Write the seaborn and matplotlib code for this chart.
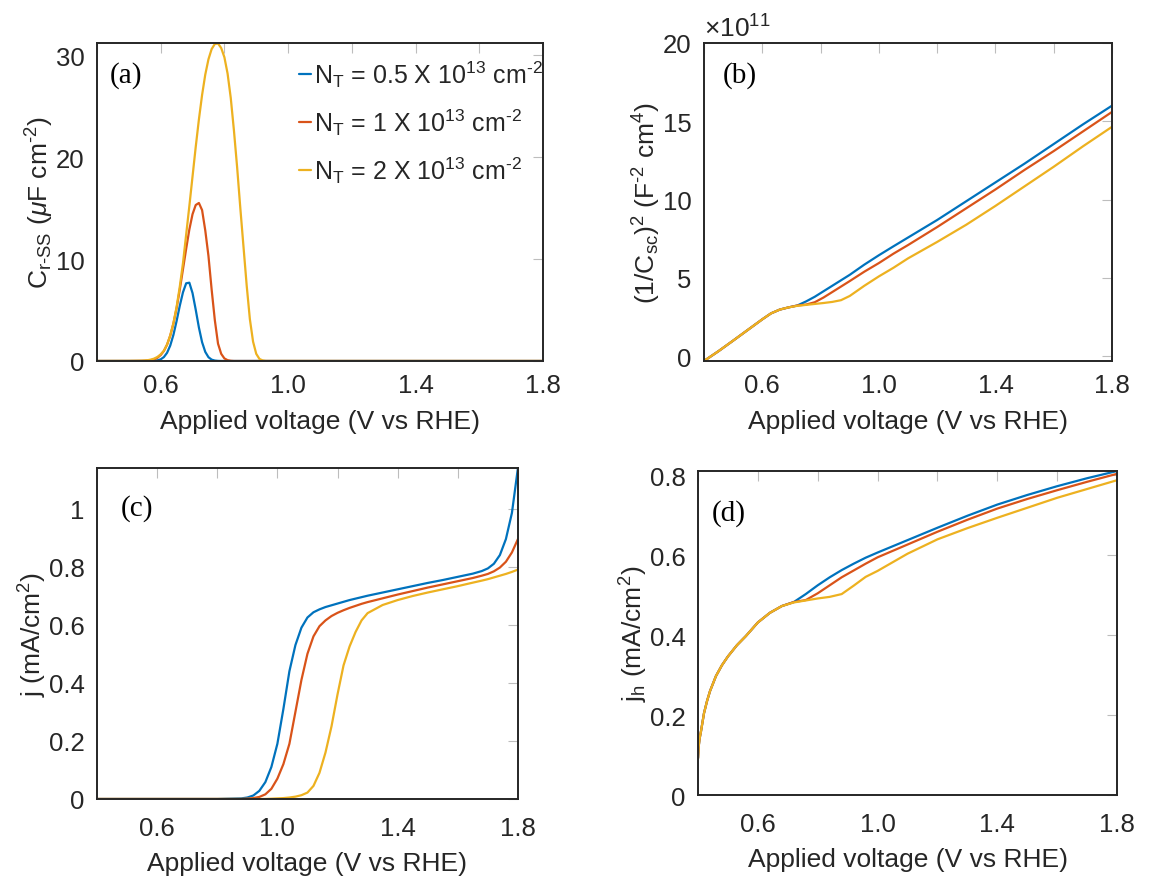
#!/usr/bin/env python3
#===============================================================================
# plot trap-state capacitance, Mott-Schottky and current curves (a)-(d)
#===============================================================================

# Imports ======================================================================

import matplotlib
matplotlib.use('Agg')
import matplotlib.pyplot as plt
import numpy as np
import pandas as pd
import seaborn as sns


# Data =========================================================================

trap_labels = [
    r'N$_\mathregular{T}$ = 0.5 X 10$^\mathregular{13}$ cm$^{\text{-2}}$',
    r'N$_\mathregular{T}$ = 1 X 10$^\mathregular{13}$ cm$^{\text{-2}}$',
    r'N$_\mathregular{T}$ = 2 X 10$^\mathregular{13}$ cm$^{\text{-2}}$',
]
colors = ['#0072BD', '#D95319', '#EDB120']

# (a) surface-state capacitance, uF cm^-2
volt_a = [0.40, 0.50, 0.54, 0.55, 0.56, 0.57, 0.58, 0.59, 0.60, 0.61, 0.62,
          0.63, 0.64, 0.65, 0.66, 0.67, 0.68, 0.69, 0.70, 0.71, 0.72, 0.73,
          0.74, 0.75, 0.76, 0.77, 0.78, 0.79, 0.80, 0.81, 0.82, 0.83, 0.84,
          0.85, 0.86, 0.87, 0.88, 0.89, 0.90, 0.91, 0.92, 0.93, 1.00, 1.80]
crss_05 = [0, 0, 0, 0, 0, 0.01, 0.02, 0.06, 0.16, 0.38, 0.80,
           1.51, 2.56, 3.92, 5.42, 6.74, 7.62, 7.68, 6.66, 5.03, 3.28, 1.84,
           0.89, 0.37, 0.13, 0.04, 0.01, 0, 0, 0, 0, 0, 0,
           0, 0, 0, 0, 0, 0, 0, 0, 0, 0, 0]
crss_1 = [0, 0, 0.01, 0.02, 0.04, 0.09, 0.17, 0.32, 0.58, 0.98, 1.60,
          2.48, 3.68, 5.19, 7.0, 9.0, 11.0, 12.9, 14.4, 15.3, 15.5, 14.8,
          12.8, 10.3, 7.0, 4.0, 1.7, 0.7, 0.25, 0.08, 0.02, 0, 0,
          0, 0, 0, 0, 0, 0, 0, 0, 0, 0, 0]
crss_2 = [0, 0.01, 0.03, 0.05, 0.08, 0.14, 0.24, 0.40, 0.65, 1.0, 1.6,
          2.5, 3.7, 5.3, 7.3, 9.6, 12.4, 15.2, 18.1, 21.0, 23.7, 26.1,
          28.1, 29.6, 30.6, 31.1, 31.15, 30.7, 29.8, 28.2, 25.8, 22.6, 19.0,
          15.0, 11.2, 7.4, 4.1, 1.9, 0.7, 0.2, 0.05, 0, 0, 0]

# (b) Mott-Schottky, in units of 1e11 F^-2 cm^4
volt_b = [0.40, 0.45, 0.50, 0.55, 0.60, 0.63, 0.66, 0.69, 0.72, 0.75, 0.78,
          0.81, 0.84, 0.87, 0.90, 0.95, 1.00, 1.05, 1.10, 1.20, 1.30, 1.40,
          1.50, 1.60, 1.70, 1.80]
ms_05 = [-0.30, 0.33, 1.00, 1.68, 2.36, 2.74, 2.98, 3.12, 3.24, 3.50, 3.80,
         4.15, 4.50, 4.85, 5.20, 5.85, 6.45, 7.02, 7.58, 8.70, 9.90, 11.10,
         12.30, 13.55, 14.80, 16.00]
ms_1 = [-0.30, 0.33, 1.00, 1.68, 2.36, 2.74, 2.98, 3.12, 3.24, 3.30, 3.45,
        3.75, 4.10, 4.45, 4.80, 5.40, 5.95, 6.55, 7.10, 8.25, 9.45, 10.65,
        11.90, 13.10, 14.35, 15.60]
ms_2 = [-0.30, 0.33, 1.00, 1.68, 2.36, 2.74, 2.98, 3.12, 3.22, 3.28, 3.34,
        3.40, 3.47, 3.58, 3.85, 4.50, 5.10, 5.65, 6.25, 7.30, 8.40, 9.60,
        10.85, 12.10, 13.40, 14.65]

# (c) total current density, mA/cm^2
volt_c = [0.40, 0.60, 0.80, 0.88, 0.90, 0.92, 0.94, 0.96, 0.98, 1.00, 1.02,
          1.04, 1.06, 1.08, 1.10, 1.12, 1.14, 1.16, 1.18, 1.20, 1.22, 1.24,
          1.26, 1.28, 1.30, 1.35, 1.40, 1.45, 1.50, 1.55, 1.60, 1.65, 1.68,
          1.70, 1.72, 1.74, 1.76, 1.78, 1.80]
j_05 = [0, 0, 0, 0.002, 0.005, 0.012, 0.028, 0.058, 0.11, 0.19, 0.31,
        0.44, 0.53, 0.59, 0.625, 0.643, 0.653, 0.661, 0.667, 0.673, 0.679, 0.685,
        0.690, 0.695, 0.700, 0.711, 0.722, 0.733, 0.744, 0.754, 0.765, 0.776, 0.785,
        0.794, 0.810, 0.840, 0.895, 0.985, 1.140]
j_1 = [0, 0, 0, 0, 0.001, 0.003, 0.007, 0.016, 0.035, 0.07, 0.12,
       0.19, 0.30, 0.41, 0.50, 0.56, 0.595, 0.615, 0.630, 0.641, 0.650, 0.658,
       0.665, 0.672, 0.678, 0.691, 0.704, 0.716, 0.728, 0.739, 0.750, 0.761, 0.769,
       0.775, 0.784, 0.797, 0.817, 0.849, 0.895]
j_2 = [0, 0, 0, 0, 0, 0, 0, 0, 0.001, 0.002, 0.003,
       0.005, 0.008, 0.013, 0.022, 0.045, 0.09, 0.16, 0.25, 0.36, 0.46, 0.525,
       0.575, 0.615, 0.640, 0.668, 0.685, 0.699, 0.711, 0.722, 0.733, 0.745, 0.752,
       0.757, 0.763, 0.769, 0.775, 0.782, 0.790]

# (d) hole current density, mA/cm^2
volt_d = [0.400, 0.402, 0.405, 0.41, 0.42, 0.43, 0.44, 0.46, 0.48, 0.50, 0.53,
          0.56, 0.60, 0.64, 0.68, 0.72, 0.76, 0.80, 0.84, 0.88, 0.92, 0.96,
          1.00, 1.10, 1.20, 1.30, 1.40, 1.50, 1.60, 1.70, 1.80]
jh_05 = [0.092, 0.12, 0.14, 0.16, 0.205, 0.235, 0.26, 0.298, 0.325, 0.347, 0.375,
         0.398, 0.432, 0.456, 0.473, 0.483, 0.503, 0.525, 0.545, 0.563, 0.579, 0.594,
         0.607, 0.638, 0.669, 0.699, 0.727, 0.751, 0.773, 0.793, 0.811]
jh_1 = [0.092, 0.12, 0.14, 0.16, 0.205, 0.235, 0.26, 0.298, 0.325, 0.347, 0.375,
        0.398, 0.432, 0.456, 0.473, 0.483, 0.488, 0.505, 0.525, 0.545, 0.562, 0.579,
        0.595, 0.627, 0.659, 0.689, 0.717, 0.741, 0.763, 0.784, 0.804]
jh_2 = [0.092, 0.12, 0.14, 0.16, 0.205, 0.235, 0.26, 0.298, 0.325, 0.347, 0.375,
        0.398, 0.432, 0.456, 0.473, 0.482, 0.487, 0.492, 0.496, 0.503, 0.524, 0.546,
        0.561, 0.604, 0.640, 0.668, 0.694, 0.719, 0.744, 0.766, 0.788]

x_ticks = [0.4, 0.6, 0.8, 1.0, 1.2, 1.4, 1.6, 1.8]
x_ticklabels = ['', '0.6', '', '1.0', '', '1.4', '', '1.8']


# Functions ====================================================================

def draw_panel(ax, volts, series, legend=False, tick_pad=9):
    df = pd.DataFrame({
        'V': np.tile(volts, len(series)),
        'val': np.concatenate([np.asarray(s, dtype=float) for s in series]),
        'trap': np.repeat(trap_labels, len(volts)),
    })
    sns.lineplot(data=df, x='V', y='val', hue='trap', hue_order=trap_labels,
                 palette=colors, linewidth=1.6, estimator=None, sort=False,
                 legend=legend, ax=ax)
    ax.set_xlim(0.4, 1.8)
    ax.set_xticks(x_ticks)
    ax.set_xticklabels(x_ticklabels)
    ax.set_xlabel('Applied voltage (V vs RHE)', fontsize=19, labelpad=8)
    ax.tick_params(direction='in', top=True, right=True, length=7, width=0.8,
                   color='#bdbdbd', labelcolor='#262626', labelsize=18.5, pad=9)
    ax.tick_params(axis='x', pad=tick_pad)
    for sp in ax.spines.values():
        sp.set_linewidth(1.4)
        sp.set_color('#262626')


def panel_tag(ax, tag, x, y):
    ax.text(x, y, tag, transform=ax.transAxes, family='Liberation Serif',
            fontsize=21, ha='left', va='center', color='black')


def main():
    sns.set_theme(style='white')
    plt.rcParams['font.family'] = ['Liberation Sans', 'DejaVu Sans']
    plt.rcParams['mathtext.fontset'] = 'custom'
    plt.rcParams['mathtext.rm'] = 'Liberation Sans'
    plt.rcParams['mathtext.it'] = 'Liberation Sans:italic'
    plt.rcParams['mathtext.default'] = 'regular'
    plt.rcParams['axes.labelcolor'] = '#262626'

    fig = plt.figure(figsize=(11.53, 8.79), dpi=100)
    ax_a = fig.add_axes([0.0841, 0.5882, 0.3868, 0.3618])
    ax_b = fig.add_axes([0.6106, 0.5882, 0.3539, 0.3618])
    ax_c = fig.add_axes([0.0841, 0.0899, 0.3651, 0.3766])
    ax_d = fig.add_axes([0.6054, 0.0944, 0.3634, 0.3686])

    # (a)
    draw_panel(ax_a, volt_a, [crss_05, crss_1, crss_2], legend=True)
    ax_a.set_ylim(0, 31.2)
    ax_a.set_yticks([0, 10, 20, 30])
    ax_a.set_ylabel(r'C$_{\text{r-SS}}$ ($\mathit{\mu}$F cm$^{\text{-2}}$)',
                    fontsize=19, labelpad=0)
    ax_a.legend(frameon=False, loc='upper right', bbox_to_anchor=(1.033, 1.0),
                fontsize=18, handlelength=0.5, handletextpad=0.1,
                labelspacing=0.7, borderaxespad=0.2)
    panel_tag(ax_a, '(a)', 0.028, 0.90)

    # (b)
    draw_panel(ax_b, volt_b, [ms_05, ms_1, ms_2])
    ax_b.set_ylim(-0.3, 20)
    ax_b.set_yticks([0, 5, 10, 15, 20])
    ax_b.text(0.0, 1.005, r'$\times$10$^\mathregular{11}$', transform=ax_b.transAxes,
              ha='left', va='bottom', fontsize=19, color='#262626')
    ax_b.set_ylabel(r'(1/C$_\mathregular{sc}$)$^\mathregular{2}$ (F$^{\text{-2}}$ cm$^\mathregular{4}$)',
                    fontsize=19, labelpad=0)
    panel_tag(ax_b, '(b)', 0.045, 0.90)

    # (c)
    draw_panel(ax_c, volt_c, [j_05, j_1, j_2], tick_pad=12)
    ax_c.set_ylim(0, 1.14)
    ax_c.set_yticks([0, 0.2, 0.4, 0.6, 0.8, 1.0])
    ax_c.set_yticklabels(['0', '0.2', '0.4', '0.6', '0.8', '1'])
    ax_c.set_ylabel(r'j (mA/cm$^\mathregular{2}$)', fontsize=19, labelpad=0)
    panel_tag(ax_c, '(c)', 0.057, 0.88)

    # (d)
    draw_panel(ax_d, volt_d, [jh_05, jh_1, jh_2], tick_pad=12)
    ax_d.set_ylim(0, 0.811)
    ax_d.set_yticks([0, 0.2, 0.4, 0.6, 0.8])
    ax_d.set_yticklabels(['0', '0.2', '0.4', '0.6', '0.8'])
    ax_d.set_ylabel(r'j$_\mathregular{h}$ (mA/cm$^\mathregular{2}$)', fontsize=19, labelpad=0)
    panel_tag(ax_d, '(d)', 0.033, 0.873)

    fig.savefig('out.png', dpi=100, facecolor='white')


# Execute ======================================================================

if __name__ == '__main__':
    main()
